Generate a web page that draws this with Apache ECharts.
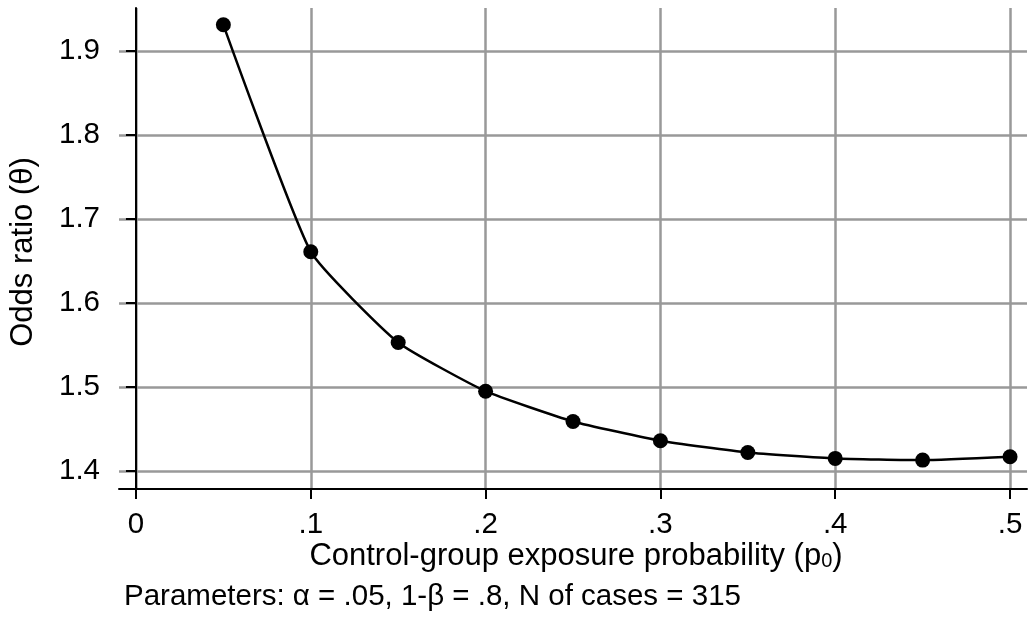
<!DOCTYPE html>
<html>
<head>
<meta charset="utf-8">
<script src="https://cdn.jsdelivr.net/npm/echarts@6/dist/echarts.min.js"></script>
<style>
html,body{margin:0;padding:0;background:#fff;}
#chart{width:1029px;height:618px;}
</style>
</head>
<body>
<div id="chart"></div>
<script>
// Data
const p0Values = [0.05, 0.10, 0.15, 0.20, 0.25, 0.30, 0.35, 0.40, 0.45, 0.50];
const oddsRatio = [1.931, 1.661, 1.553, 1.495, 1.459, 1.436, 1.422, 1.415, 1.413, 1.417];
const xTicks = [0, 0.1, 0.2, 0.3, 0.4, 0.5];
const yTicks = [1.4, 1.5, 1.6, 1.7, 1.8, 1.9];
const xTitle = 'Control-group exposure probability (p';
const xTitleSub = '0';
const yTitle = 'Odds ratio (\u03B8)';
const caption = 'Parameters: \u03B1 = .05, 1-\u03B2 = .8, N of cases = 315';

const FONT = '"Liberation Sans", Arial, Helvetica, sans-serif';
const FS = 29.5;
const TFS = 31;

const chart = echarts.init(document.getElementById('chart'), null, {renderer: 'canvas'});
const option = {
  backgroundColor: '#fff',
  animation: false,
  grid: {left: 119, right: 2, top: 8, bottom: 129, containLabel: false},
  xAxis: {
    type: 'value',
    min: -0.0097, max: 0.5097,
    axisLine: {show: true, lineStyle: {color: '#000', width: 2}},
    axisTick: {show: true, length: 10, inside: false, customValues: xTicks, lineStyle: {color: '#000', width: 2}},
    axisLabel: {customValues: xTicks, margin: 21, color: '#000', fontSize: FS, fontFamily: FONT,
      formatter: v => (Math.abs(v) < 1e-9 ? '0' : ('.' + Math.round(v * 10)))},
    splitLine: {show: true, lineStyle: {color: '#999', width: 2.5}}
  },
  yAxis: {
    type: 'value',
    min: 1.3786, max: 1.951,
    axisLine: {show: true, lineStyle: {color: '#000', width: 2}},
    axisTick: {show: true, length: 10, inside: false, customValues: yTicks, lineStyle: {color: '#000', width: 2}},
    axisLabel: {customValues: yTicks, margin: 19, color: '#000', fontSize: FS, fontFamily: FONT,
      formatter: v => v.toFixed(1)},
    splitLine: {show: true, lineStyle: {color: '#999', width: 2.5}}
  },
  series: [{
    type: 'line',
    data: p0Values.map((x, i) => [x, oddsRatio[i]]),
    smooth: 0.15,
    symbol: 'circle',
    symbolSize: 15,
    itemStyle: {color: '#000'},
    lineStyle: {color: '#000', width: 2.5},
    z: 5
  }],
  graphic: [
    {type: 'text', x: 23, y: 252, rotation: Math.PI / 2,
      style: {text: yTitle, fill: '#000', font: TFS + 'px ' + FONT, textAlign: 'center', textVerticalAlign: 'middle'}},
    {type: 'text', x: 576, y: 556,
      style: {text: '{a|' + xTitle + '}{s|' + xTitleSub + '}{a|)}',
        textAlign: 'center', textVerticalAlign: 'middle',
        rich: {
          a: {fontSize: TFS, fontFamily: FONT, fill: '#000', color: '#000'},
          s: {fontSize: 20, fontFamily: FONT, fill: '#000', color: '#000', padding: [10, 0, 0, 0]}
        }}},
    {type: 'text', x: 124, y: 597,
      style: {text: caption, fill: '#000', font: FS + 'px ' + FONT, textAlign: 'left', textVerticalAlign: 'middle'}}
  ]
};
chart.setOption(option);
</script>
</body>
</html>
